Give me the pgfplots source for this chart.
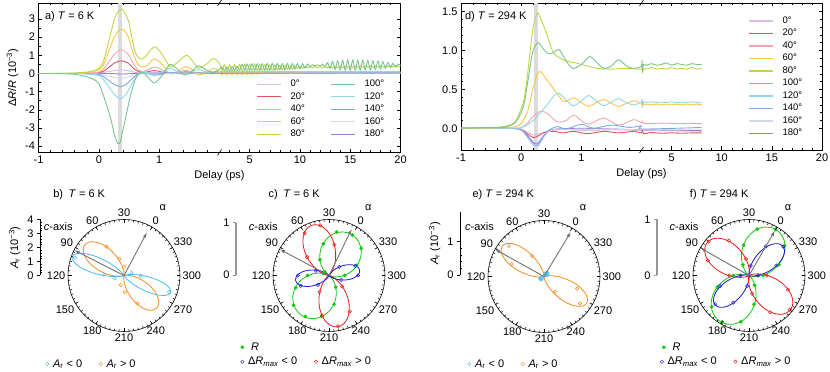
\documentclass[border=0pt]{standalone}
\usepackage{pgfplots}
\pgfplotsset{compat=1.18}
\usepackage{pgfplotstable}
\usetikzlibrary{arrows.meta}
\usepackage{fontspec}
\setmainfont{Liberation Sans}
\setsansfont{Liberation Sans}

\definecolor{c0}{RGB}{216,186,228}
\definecolor{c20}{RGB}{222,85,95}
\definecolor{c40}{RGB}{242,165,172}
\definecolor{c60}{RGB}{250,198,70}
\definecolor{c80}{RGB}{190,214,70}
\definecolor{c100}{RGB}{120,196,140}
\definecolor{c120}{RGB}{140,218,228}
\definecolor{c140}{RGB}{128,168,228}
\definecolor{c160}{RGB}{208,218,236}
\definecolor{c180}{RGB}{150,120,215}
\definecolor{pcyan}{RGB}{70,190,240}
\definecolor{porange}{RGB}{245,140,30}
\definecolor{pgreen}{RGB}{20,200,20}
\definecolor{pblue}{RGB}{25,25,220}
\definecolor{pred}{RGB}{235,25,25}
\definecolor{agray}{RGB}{115,115,115}
\definecolor{bgray}{RGB}{150,150,150}

\newcommand\fs{\fontsize{11bp}{13bp}\selectfont}
\newcommand\fl{\fontsize{9.5bp}{11bp}\selectfont}
\newcommand\BX{ifthenelse(\thisrow{t}<=2,\thisrow{t},2+(\thisrow{t}-2)/6)}

\tikzset{arr/.style={agray, line width=0.9bp, -{Latex[length=5.5bp,width=3.5bp]}}}

% circular frame with angle ticks and labels (alpha = theta - 60)
\newcommand\polframe[2]{%
  \begin{scope}[shift={(#1bp,#2bp)}]
  \draw[line width=0.6bp] (0,0) circle (56bp);
  \foreach \a in {0,5,...,355} \draw[line width=0.5bp] (\a:56bp) -- (\a:54bp);
  \foreach \a in {0,30,...,330} \draw[line width=0.5bp] (\a:56bp) -- (\a:52.5bp);
  \foreach \t/\l in {0/300,30/330,60/0,90/30,120/60,150/90,180/120,210/150,240/180,270/210,300/240,330/270}{%
    \pgfmathtruncatemacro\an{mod(\t+180,360)}%
    \node[font=\fs, inner sep=1.5bp, anchor=\an] at (\t:57bp) {\l};}
  \end{scope}}

\pgfplotsset{
  top/.style={scale only axis, xmin=-1, xmax=5,
    xtick={-1,0,1,2.5,3.333333,4.166667,5},
    xticklabels={-1,0,1,5,10,15,20},
    minor xtick={-0.8,-0.6,-0.4,-0.2,0.2,0.4,0.6,0.8,1.2,1.4,1.6,1.8,2.166667,2.333333,2.666667,2.833333,3,3.166667,3.5,3.666667,3.833333,4,4.333333,4.5,4.666667,4.833333},
    tick align=inside, major tick length=3.5bp, minor tick length=2bp,
    axis line style={line width=0.6bp}, tick style={line width=0.5bp, black},
    font=\fs, /pgf/number format/assume math mode=true,
    xlabel={Delay (ps)},
    legend style={draw=none, fill=none, font=\fl, inner sep=0bp,
      nodes={inner sep=1.75bp, text height=7bp, text depth=2bp},
      /tikz/every odd column/.append style={column sep=7bp},
      /tikz/every even column/.append style={column sep=24bp}},
    legend cell align=left,
    legend image code/.code={\draw[#1, line width=1.2bp] (0bp,0bp) -- (24bp,0bp);},
  },
  ln/.style={line width=0.9bp, smooth, forget plot},
  pc/.style={hide axis, scale only axis, width=112bp, height=112bp, anchor=center, clip=false},
  lob/.style={smooth, line width=0.8bp, data cs=polar},
  mk/.style={only marks, mark=o, mark size=1.7bp, mark options={line width=0.5bp}, data cs=polar},
  mkf/.style={only marks, mark=*, mark size=1.7bp, data cs=polar},
  scl/.style={scale only axis, width=1bp, xmin=0, xmax=1, ymin=0,
    axis x line=none, axis y line=left, y axis line style={-},
    tick align=outside, major tick length=3bp, minor tick length=2bp,
    minor tick style={xshift=2bp}, tick style={black, line width=0.5bp},
    font=\fs, /pgf/number format/assume math mode=true},
  leg/.style={hide axis, scale only axis, width=1bp, height=1bp, xmin=0,xmax=1,ymin=0,ymax=1,
    legend style={at={(0,0.5)}, anchor=west, draw=none, fill=none, font=\fs, inner sep=0bp,
      nodes={inner sep=1bp},
      /tikz/every odd column/.append style={column sep=3bp},
      /tikz/every even column/.append style={column sep=16bp}},
    legend cell align=left,
    legend image code/.code={\draw[#1] plot coordinates {(0bp,0bp)};}},
}

\pgfplotstableread{
p n15 n2 n4 n6 n8 n16
-90 0 0 0 0 0 0
-85 0.0257 0.0076 0.0001 0 0 0
-80 0.0724 0.0302 0.0009 0 0 0
-75 0.1317 0.0670 0.0045 0.0003 0 0
-70 0.2000 0.1170 0.0137 0.0016 0.0002 0
-65 0.2748 0.1786 0.0319 0.0057 0.0010 0
-60 0.3536 0.25 0.0625 0.0156 0.0039 0
-55 0.4344 0.3290 0.1082 0.0356 0.0117 0
-50 0.5153 0.4132 0.1707 0.0705 0.0291 0.0008
-45 0.5946 0.5 0.25 0.125 0.0625 0.0039
-40 0.6705 0.5868 0.3443 0.2020 0.1185 0.0140
-35 0.7414 0.6710 0.4502 0.3021 0.2027 0.0411
-30 0.8059 0.75 0.5625 0.4219 0.3164 0.1001
-25 0.8629 0.8214 0.6747 0.5542 0.4552 0.2072
-20 0.9108 0.8830 0.7797 0.6885 0.6079 0.3695
-15 0.9493 0.9330 0.8705 0.8122 0.7578 0.5743
-10 0.9773 0.9698 0.9405 0.9121 0.8845 0.7823
-5 0.9943 0.9924 0.9849 0.9774 0.9700 0.9409
0 1 1 1 1 1 1
5 0.9943 0.9924 0.9849 0.9774 0.9700 0.9409
10 0.9773 0.9698 0.9405 0.9121 0.8845 0.7823
15 0.9493 0.9330 0.8705 0.8122 0.7578 0.5743
20 0.9108 0.8830 0.7797 0.6885 0.6079 0.3695
25 0.8629 0.8214 0.6747 0.5542 0.4552 0.2072
30 0.8059 0.75 0.5625 0.4219 0.3164 0.1001
35 0.7414 0.6710 0.4502 0.3021 0.2027 0.0411
40 0.6705 0.5868 0.3443 0.2020 0.1185 0.0140
45 0.5946 0.5 0.25 0.125 0.0625 0.0039
50 0.5153 0.4132 0.1707 0.0705 0.0291 0.0008
55 0.4344 0.3290 0.1082 0.0356 0.0117 0
60 0.3536 0.25 0.0625 0.0156 0.0039 0
65 0.2748 0.1786 0.0319 0.0057 0.0010 0
70 0.2000 0.1170 0.0137 0.0016 0.0002 0
75 0.1317 0.0670 0.0045 0.0003 0 0
80 0.0724 0.0302 0.0009 0 0 0
85 0.0257 0.0076 0.0001 0 0 0
90 0 0 0 0 0 0
}\lobe

\begin{document}
\begin{tikzpicture}
\useasboundingbox (0,0) rectangle (830bp,372bp);

%================ panel a ================
\begin{axis}[top, at={(38.5bp,219.5bp)}, anchor=south west,
  width=362bp, height=149.5bp, ymin=-4.35, ymax=3.88,
  ytick={-4,...,3}, minor y tick num=1,
  ylabel={Δ\textit{R}/\textit{R} (10\textsuperscript{−3})},
  legend columns=2,
  legend style={at={(0.602,0.5)}, anchor=north west}]
\addplot[fill=black!14, draw=none, forget plot] coordinates {(0.317,-4.35) (0.383,-4.35) (0.383,3.88) (0.317,3.88)} -- cycle;
\addplot[c0, ln] table[x expr=\BX, y=v] {
t v
-1 0
-0.2 0
0 0.02
0.15 0.1
0.3 0.18
0.38 0.2
0.5 0.14
0.62 0.05
0.75 0.02
0.92 0.06
1.15 0
1.45 0.04
1.7 0
2 0.02
20 0.01
};
\addplot[c20, ln] table[x expr=\BX, y=v] {
t v
-1 0
-0.3 0
-0.1 0.02
0 0.05
0.08 0.12
0.19 0.4
0.27 0.6
0.38 0.7
0.49 0.57
0.57 0.3
0.65 0.12
0.75 0.06
0.92 0.16
1.05 0.08
1.18 0.02
1.45 0.09
1.65 0
1.9 0.05
2 0.03
20 0.02
};
\addplot[c40, ln] table[x expr=\BX, y=v] {
t v
-1 0
-0.3 0
-0.1 0.03
0 0.08
0.08 0.25
0.19 0.75
0.27 1.1
0.38 1.3
0.49 1.05
0.57 0.55
0.65 0.22
0.75 0.12
0.92 0.36
1.05 0.2
1.18 0
1.3 0.06
1.45 0.18
1.6 0.04
1.9 0.1
2 0.05
20 0.04
};
\addplot[c60, ln] table[x expr=\BX, y=v] {
t v
-1 0
-0.5 0
-0.3 0.02
-0.2 0.05
-0.1 0.1
0 0.2
0.08 0.5
0.19 1.45
0.27 2.1
0.38 2.45
0.49 2.0
0.57 1.1
0.65 0.5
0.72 0.36
0.8 0.45
0.92 0.8
1.05 0.5
1.18 -0.03
1.3 0.1
1.45 0.38
1.55 0.2
1.65 -0.08
1.78 0.05
1.9 0.28
2.0 0.1
2.25 -0.08
2.5 0.12
2.75 -0.08
3.0 0.1
3.25 -0.08
3.5 0.1
3.75 -0.07
4.0 0.09
4.25 -0.07
4.5 0.08
4.75 -0.06
5.0 0.07
5.25 -0.05
5.5 0.06
5.75 -0.04
6 0.04
7 0.02
20 0.02
};
\addplot[c180, ln] table[x expr=\BX, y=v] {
t v
-1 0
0.1 0
0.36 -0.03
0.6 0
0.9 0.01
20 0
};
\addplot[c160, ln] table[x expr=\BX, y=v] {
t v
-1 0
-0.2 0
0 -0.03
0.19 -0.16
0.36 -0.27
0.5 -0.18
0.62 -0.05
0.75 0
0.92 -0.06
1.2 0
2 0.01
20 0.02
};
\addplot[c140, ln] table[x expr=\BX, y=v] {
t v
-1 0
-0.3 0
-0.1 -0.02
0 -0.06
0.08 -0.18
0.19 -0.45
0.27 -0.63
0.36 -0.72
0.45 -0.6
0.55 -0.3
0.63 -0.08
0.75 0.04
0.92 -0.1
1.05 -0.02
1.18 0.06
1.42 -0.03
1.65 0.04
2 0
20 0.04
};
\addplot[c120, ln] table[x expr=\BX, y=v] {
t v
-1 0
-0.4 0
-0.2 -0.03
0 -0.12
0.08 -0.35
0.19 -0.85
0.27 -1.2
0.36 -1.39
0.45 -1.15
0.55 -0.55
0.63 -0.15
0.72 0.05
0.8 0.04
0.92 -0.06
1.05 0.1
1.18 0.3
1.3 0.1
1.42 0
1.55 0.12
1.65 0.22
1.8 0.08
2.0 0.1
20 0.1
};
\addplot[c80, ln] table[x expr=\BX, y=v] {
t v
-1 0
-0.6 0.01
-0.4 0.03
-0.2 0.08
-0.1 0.14
0 0.28
0.08 0.7
0.19 2.1
0.27 3.1
0.38 3.55
0.49 2.9
0.57 1.6
0.62 1.06
0.68 0.82
0.75 0.85
0.92 1.47
1.05 1.05
1.18 0.38
1.3 0.6
1.45 1.0
1.55 0.7
1.65 0.3
1.78 0.5
1.9 0.82
2.0 0.55
2.25 0.15
2.5 0.5
2.75 0.12
3.0 0.48
3.25 0.12
3.5 0.5
3.75 0.13
4.0 0.5
4.25 0.12
4.5 0.52
4.75 0.13
5.0 0.5
5.25 0.14
5.5 0.52
5.75 0.15
6.0 0.5
6.25 0.16
6.5 0.5
6.75 0.17
7.0 0.48
7.25 0.18
7.5 0.48
7.75 0.2
8.0 0.46
8.25 0.2
8.5 0.45
8.75 0.22
9.0 0.44
9.25 0.24
9.5 0.42
9.75 0.26
10.0 0.4
10.25 0.28
10.5 0.4
10.75 0.3
11.0 0.38
11.25 0.31
11.5 0.39
11.75 0.31
12.0 0.39
12.25 0.3
12.5 0.4
12.75 0.3
13.0 0.4
13.25 0.3
13.5 0.4
13.75 0.31
14.0 0.41
14.25 0.31
14.5 0.41
14.75 0.32
15.0 0.42
15.25 0.32
15.5 0.42
15.75 0.33
16.0 0.42
16.25 0.33
16.5 0.42
16.75 0.34
17.0 0.43
17.25 0.34
17.5 0.43
17.75 0.35
18.0 0.43
18.25 0.35
18.5 0.43
18.75 0.36
19.0 0.43
19.25 0.37
19.5 0.43
19.75 0.38
20.0 0.42
};
\addplot[c100, ln] table[x expr=\BX, y=v] {
t v
-1 0
-0.6 -0.01
-0.4 -0.05
-0.3 -0.1
-0.2 -0.18
-0.1 -0.3
0 -0.55
0.08 -1.25
0.19 -2.4
0.27 -3.5
0.34 -3.87
0.41 -2.95
0.52 -1.29
0.6 -0.35
0.66 0
0.72 0.08
0.8 -0.15
0.92 -0.52
1.05 -0.1
1.18 0.5
1.3 0.25
1.42 -0.08
1.55 0.15
1.65 0.42
1.78 0.2
1.9 0.05
2.0 0.25
2.25 0.35
2.5 0.15
2.75 0.36
3.0 0.15
3.25 0.38
3.5 0.16
3.75 0.4
4.0 0.17
4.25 0.5
4.5 0.18
4.75 0.52
5.0 0.18
5.25 0.53
5.5 0.17
5.75 0.53
6.0 0.17
6.25 0.54
6.5 0.17
6.75 0.55
7.0 0.18
7.25 0.55
7.5 0.18
7.75 0.55
8.0 0.2
8.25 0.55
8.5 0.2
8.75 0.55
9.0 0.22
9.25 0.55
9.5 0.24
9.75 0.55
10.0 0.26
10.25 0.54
10.5 0.3
10.75 0.52
11.0 0.36
11.25 0.48
11.5 0.42
11.75 0.47
12.0 0.42
12.25 0.5
12.5 0.36
12.75 0.6
13.0 0.28
13.25 0.66
13.5 0.22
13.75 0.7
14.0 0.2
14.25 0.72
14.5 0.18
14.75 0.74
15.0 0.18
15.25 0.74
15.5 0.18
15.75 0.73
16.0 0.18
16.25 0.72
16.5 0.2
16.75 0.72
17.0 0.2
17.25 0.7
17.5 0.22
17.75 0.68
18.0 0.25
18.25 0.65
18.5 0.28
18.75 0.6
19.0 0.32
19.25 0.56
19.5 0.36
19.75 0.52
20.0 0.45
};
\addlegendimage{c0}\addlegendentry{0°}
\addlegendimage{c100}\addlegendentry{100°}
\addlegendimage{c20}\addlegendentry{20°}
\addlegendimage{c120}\addlegendentry{120°}
\addlegendimage{c40}\addlegendentry{40°}
\addlegendimage{c140}\addlegendentry{140°}
\addlegendimage{c60}\addlegendentry{60°}
\addlegendimage{c160}\addlegendentry{160°}
\addlegendimage{c80}\addlegendentry{80°}
\addlegendimage{c180}\addlegendentry{180°}
\end{axis}
\draw[line width=0.6bp] (217.5bp,216.5bp) -- (221.5bp,222.5bp);
\draw[line width=0.6bp] (217.5bp,366bp) -- (221.5bp,372bp);
\node[font=\fs, inner sep=0pt] at (69.7bp,355.3bp) {a) \textit{T} = 6 K};

%================ panel d ================
\begin{axis}[top, at={(461bp,222bp)}, anchor=south west,
  width=361bp, height=147bp, ymin=-0.28, ymax=1.61,
  ytick={0,0.5,1,1.5}, minor y tick num=4,
  yticklabel style={/pgf/number format/.cd, fixed, fixed zerofill, precision=1},
  legend style={at={(0.796,0.922)}, anchor=north west}]
\addplot[fill=black!14, draw=none, forget plot] coordinates {(0.217,-0.28) (0.283,-0.28) (0.283,1.61) (0.217,1.61)} -- cycle;
\addplot[c0, ln] table[x expr=\BX, y=v] {
t v
-1 0
-0.2 0
0 -0.01
0.1 -0.05
0.22 -0.09
0.3 -0.07
0.45 -0.04
0.7 -0.01
1.0 -0.03
1.5 -0.02
2 -0.03
8 -0.04
};
\addplot[c20, ln] table[x expr=\BX, y=v] {
t v
-1 0
-0.2 0
0 -0.02
0.1 -0.07
0.2 -0.12
0.28 -0.1
0.4 -0.05
0.55 -0.04
0.7 -0.06
0.87 -0.04
1.1 -0.07
1.37 -0.04
1.62 -0.06
1.87 -0.04
2.0 -0.06
2.1 -0.02
2.2 -0.07
3 -0.055
4 -0.065
5 -0.06
6 -0.065
7 -0.06
8 -0.06
};
\addplot[c40, ln] table[x expr=\BX, y=v] {
t v
-1 0
-0.1 0
0 0.01
0.1 0.06
0.2 0.15
0.33 0.22
0.45 0.18
0.6 0.08
0.75 0.1
0.87 0.17
1.0 0.1
1.12 0.05
1.37 0.13
1.62 0.04
1.87 0.11
2.0 0.07
2.1 0.1
2.25 0.06
4 0.065
6 0.06
8 0.06
};
\addplot[c180, ln] table[x expr=\BX, y=v] {
t v
-1 0
-0.2 0
0 -0.02
0.1 -0.09
0.2 -0.18
0.27 -0.2
0.35 -0.12
0.45 -0.04
0.6 -0.01
1.0 0
1.5 -0.01
2 -0.02
8 -0.03
};
\addplot[c160, ln] table[x expr=\BX, y=v] {
t v
-1 0
-0.2 0
0 -0.03
0.1 -0.12
0.2 -0.23
0.27 -0.25
0.35 -0.15
0.45 -0.05
0.6 -0.01
0.9 -0.02
1.3 -0.01
2 -0.02
8 -0.02
};
\addplot[c140, ln] table[x expr=\BX, y=v] {
t v
-1 0
-0.2 0
0 -0.02
0.1 -0.1
0.2 -0.2
0.27 -0.22
0.35 -0.13
0.45 -0.03
0.6 0.02
0.75 -0.01
1.0 0.05
1.2 0
1.5 0.04
1.8 0.01
2.0 0.03
2.1 -0.01
8 0.01
};
\addplot[c60, ln] table[x expr=\BX, y=v] {
t v
-1 0
-0.3 0
-0.1 0.02
0 0.06
0.1 0.2
0.15 0.35
0.2 0.52
0.3 0.73
0.45 0.6
0.6 0.44
0.72 0.34
0.87 0.39
1.0 0.33
1.12 0.28
1.25 0.33
1.37 0.37
1.5 0.32
1.62 0.28
1.75 0.32
1.87 0.35
2.0 0.32
2.05 0.26
2.12 0.34
2.25 0.3
2.5 0.31
3 0.3
3.5 0.31
4 0.3
4.5 0.31
5 0.3
5.5 0.31
6 0.3
6.5 0.31
7 0.3
7.5 0.31
8 0.3
};
\addplot[c120, ln] table[x expr=\BX, y=v] {
t v
-1 0
-0.1 0
0 0.01
0.1 0.04
0.2 0.1
0.3 0.18
0.45 0.32
0.55 0.42
0.63 0.45
0.75 0.36
0.87 0.29
1.0 0.35
1.12 0.42
1.25 0.35
1.37 0.29
1.5 0.34
1.62 0.38
1.75 0.33
1.87 0.3
2.0 0.34
2.05 0.38
2.12 0.3
2.25 0.34
2.5 0.33
3 0.34
3.5 0.33
4 0.335
4.5 0.33
5 0.34
5.5 0.33
6 0.335
6.5 0.33
7 0.34
7.5 0.33
8 0.33
};
\addplot[c80, ln] table[x expr=\BX, y=v] {
t v
-1 0
-0.5 0.005
-0.3 0.02
-0.2 0.04
-0.1 0.08
0 0.25
0.05 0.38
0.1 0.65
0.15 1.0
0.2 1.3
0.27 1.48
0.33 1.4
0.42 1.22
0.53 0.98
0.65 0.9
0.76 0.86
0.9 0.84
1.1 0.8
1.25 0.77
1.5 0.76
1.75 0.77
2.0 0.76
2.05 0.8
2.1 0.72
2.25 0.77
2.5 0.76
3 0.78
3.5 0.76
4 0.77
4.5 0.76
5 0.78
5.5 0.76
6 0.77
6.5 0.76
7 0.78
7.5 0.76
8 0.77
};
\addplot[c100, ln] table[x expr=\BX, y=v] {
t v
-1 0
-0.3 0.015
-0.2 0.03
-0.1 0.07
0 0.2
0.05 0.32
0.1 0.55
0.15 0.8
0.2 1.0
0.28 1.1
0.36 1.03
0.45 0.96
0.55 0.98
0.63 1.01
0.72 0.9
0.85 0.77
1.0 0.82
1.14 0.92
1.25 0.85
1.37 0.77
1.5 0.8
1.62 0.88
1.75 0.8
1.87 0.77
2.0 0.8
2.05 0.88
2.1 0.74
2.2 0.82
2.5 0.81
3 0.83
3.5 0.81
4 0.82
4.5 0.84
5 0.81
5.5 0.83
6 0.82
6.5 0.81
7 0.83
7.5 0.82
8 0.82
};
\addlegendimage{c0}\addlegendentry{0°}
\addlegendimage{c20}\addlegendentry{20°}
\addlegendimage{c40}\addlegendentry{40°}
\addlegendimage{c60}\addlegendentry{60°}
\addlegendimage{c80}\addlegendentry{80°}
\addlegendimage{c100}\addlegendentry{100°}
\addlegendimage{c120}\addlegendentry{120°}
\addlegendimage{c140}\addlegendentry{140°}
\addlegendimage{c160}\addlegendentry{160°}
\addlegendimage{c180}\addlegendentry{180°}
\end{axis}
\draw[line width=0.6bp] (639.5bp,219bp) -- (643.5bp,225bp);
\draw[line width=0.6bp] (639.5bp,366bp) -- (643.5bp,372bp);
\node[font=\fs, inner sep=0pt] at (495.8bp,355.3bp) {d) \textit{T} = 294 K};

%================ panel b ================
\begin{axis}[pc, at={(124bp,96.5bp)}, xmin=-4, xmax=4, ymin=-4, ymax=4]
\addplot[porange, lob] table[x expr=\thisrow{p}+142, y expr=3.55*\thisrow{n6}] {\lobe};
\addplot[porange, lob] table[x expr=\thisrow{p}+315, y expr=3.3*\thisrow{n6}] {\lobe};
\addplot[pcyan, lob] table[x expr=\thisrow{p}+160, y expr=3.95*\thisrow{n16}] {\lobe};
\addplot[pcyan, lob] table[x expr=\thisrow{p}+340, y expr=3.55*\thisrow{n16}] {\lobe};
\addplot[pcyan, mk] table[x expr=\thisrow{a}+60, y=r] {
a r
100 3.74
118 1.44
137 0.69
321 0.57
299 1.18
280 3.44
};
\addplot[porange, mk] table[x expr=\thisrow{a}+60, y=r] {
a r
61 2.41
46 1.23
30 0.63
191 0.72
213 1.2
236 2.21
};
\end{axis}
\polframe{124}{96.5}
\draw[arr] (124bp,96.5bp) -- ++(62:49bp);
\draw[arr] (124bp,96.5bp) -- ++(153:56bp);
\begin{axis}[scl, at={(40bp,96.5bp)}, anchor=south west, height=56bp, ymax=4,
  ytick={0,1,2,3,4}, minor y tick num=4,
  ylabel={\textit{A}\textsubscript{r} (10\textsuperscript{−3})}]
\end{axis}
\node[font=\fs, inner sep=0pt] at (79.2bp,177bp) {b)\enspace\textit{T} = 6 K};
\node[font=\fs, inner sep=0pt] at (58.3bp,145.3bp) {\textit{c}-axis};
\node[font=\fs, inner sep=0pt] at (162.7bp,164.3bp) {α};
\begin{axis}[leg, at={(45.5bp,8bp)}, anchor=west, legend columns=2]
\addlegendimage{only marks, mark=o, pcyan, mark size=1.7bp}\addlegendentry{\textit{A}\textsubscript{r} < 0}
\addlegendimage{only marks, mark=o, porange, mark size=1.7bp}\addlegendentry{\textit{A}\textsubscript{r} > 0}
\end{axis}

%================ panel c ================
\begin{axis}[pc, at={(329bp,96.5bp)}, xmin=-1.077, xmax=1.077, ymin=-1.077, ymax=1.077]
\addplot[pgreen, lob] table[x expr=\thisrow{p}+62, y expr=0.9*\thisrow{n15}] {\lobe};
\addplot[pgreen, lob] table[x expr=\thisrow{p}+235, y expr=0.93*\thisrow{n15}] {\lobe};
\addplot[pred, lob] table[x expr=\thisrow{p}+109, y expr=1.02*\thisrow{n4}] {\lobe};
\addplot[pred, lob] table[x expr=\thisrow{p}+280, y expr=1.0*\thisrow{n4}] {\lobe};
\addplot[pblue, lob] table[x expr=\thisrow{p}+10, y expr=0.6*\thisrow{n6}] {\lobe};
\addplot[pblue, lob] table[x expr=\thisrow{p}+188, y expr=0.65*\thisrow{n6}] {\lobe};
\addplot[pgreen, mkf] table[x expr=\thisrow{a}+60, y=r] {
a r
300 0.30
320 0.57
340 0.81
0 0.9
20 0.85
40 0.62
60 0.35
80 0.1
100 0.12
120 0.41
140 0.68
160 0.89
180 0.91
200 0.8
220 0.56
240 0.26
};
\addplot[pblue, mk] table[x expr=\thisrow{a}+60, y=r] {
a r
280 0.25
300 0.56
320 0.54
340 0.26
100 0.27
120 0.6
140 0.58
160 0.28
};
\addplot[pred, mk] table[x expr=\thisrow{a}+60, y=r] {
a r
20 0.6
40 0.98
60 0.94
80 0.55
180 0.36
200 0.78
220 0.99
240 0.8
260 0.33
};
\end{axis}
\polframe{329}{96.5}
\draw[arr] (329bp,96.5bp) -- ++(64:52bp);
\draw[arr] (329bp,96.5bp) -- ++(152:56bp);
\begin{axis}[scl, at={(236bp,97bp)}, anchor=south west, height=52.3bp, ymax=1,
  ytick={0,1}, y axis line style={bgray, line width=1.6bp}, tick style={bgray, line width=0.8bp}]
\end{axis}
\node[font=\fs, inner sep=0pt] at (294.2bp,177bp) {c)\enspace\textit{T} = 6 K};
\node[font=\fs, inner sep=0pt] at (263.3bp,145.3bp) {\textit{c}-axis};
\node[font=\fs, inner sep=0pt] at (368.3bp,164.3bp) {α};
\begin{axis}[leg, at={(240.5bp,24.7bp)}, anchor=west]
\addlegendimage{only marks, mark=*, pgreen, mark size=1.7bp}\addlegendentry{\ \textit{R}}
\end{axis}
\begin{axis}[leg, at={(240.5bp,10.3bp)}, anchor=west, legend columns=2]
\addlegendimage{only marks, mark=o, pblue, mark size=1.7bp}\addlegendentry{Δ\textit{R}\textsubscript{\textit{max}} < 0}
\addlegendimage{only marks, mark=o, pred, mark size=1.7bp}\addlegendentry{Δ\textit{R}\textsubscript{\textit{max}} > 0}
\end{axis}

%================ panel e ================
\begin{axis}[pc, at={(544bp,95.5bp)}, xmin=-1.68, xmax=1.68, ymin=-1.68, ymax=1.68]
\addplot[porange, lob] table[x expr=\thisrow{p}+144, y expr=1.55*\thisrow{n8}] {\lobe};
\addplot[porange, lob] table[x expr=\thisrow{p}+328, y expr=1.51*\thisrow{n8}] {\lobe};
\addplot[pcyan, lob] table[x expr=\thisrow{p}+50, y expr=0.17*\thisrow{n4}] {\lobe};
\addplot[pcyan, lob] table[x expr=\thisrow{p}+215, y expr=0.15*\thisrow{n4}] {\lobe};
\addplot[porange, mk] table[x expr=\thisrow{a}+60, y=r] {
a r
79 1.39
60 0.71
99 1.04
246 0.56
280 1.06
263 1.35
};
\addplot[pcyan, mk] table[x expr=\thisrow{a}+60, y=r] {
a r
340 0.15
0 0.13
320 0.1
150 0.14
170 0.12
135 0.1
};
\end{axis}
\polframe{544}{95.5}
\draw[arr] (544bp,95.5bp) -- ++(59:52bp);
\draw[arr] (544bp,95.5bp) -- ++(151:56bp);
\begin{axis}[scl, at={(460bp,97bp)}, anchor=south west, height=63.3bp, ymax=1.9,
  ytick={0,1}, minor y tick num=4,
  ylabel={\textit{A}\textsubscript{r} (10\textsuperscript{−3})}]
\end{axis}
\node[font=\fs, inner sep=0pt] at (503.3bp,177bp) {e) \textit{T} = 294 K};
\node[font=\fs, inner sep=0pt] at (479.5bp,145.3bp) {\textit{c}-axis};
\node[font=\fs, inner sep=0pt] at (583bp,164.3bp) {α};
\begin{axis}[leg, at={(467.5bp,8bp)}, anchor=west, legend columns=2]
\addlegendimage{only marks, mark=o, pcyan, mark size=1.7bp}\addlegendentry{\textit{A}\textsubscript{r} < 0}
\addlegendimage{only marks, mark=o, porange, mark size=1.7bp}\addlegendentry{\textit{A}\textsubscript{r} > 0}
\end{axis}

%================ panel f ================
\begin{axis}[pc, at={(749bp,96.5bp)}, xmin=-1, xmax=1, ymin=-1, ymax=1]
\addplot[pgreen, lob] table[x expr=\thisrow{p}+60, y expr=0.95*\thisrow{n2}] {\lobe};
\addplot[pgreen, lob] table[x expr=\thisrow{p}+238, y expr=0.97*\thisrow{n2}] {\lobe};
\addplot[pblue, lob] table[x expr=\thisrow{p}+41, y expr=0.8*\thisrow{n6}] {\lobe};
\addplot[pblue, lob] table[x expr=\thisrow{p}+221, y expr=0.8*\thisrow{n6}] {\lobe};
\addplot[pred, lob] table[x expr=\thisrow{p}+142, y expr=0.95*\thisrow{n4}] {\lobe};
\addplot[pred, lob] table[x expr=\thisrow{p}+320, y expr=0.96*\thisrow{n4}] {\lobe};
\addplot[pgreen, mkf] table[x expr=\thisrow{a}+60, y=r] {
a r
300 0.25
320 0.57
340 0.83
0 0.95
20 0.84
40 0.55
60 0.22
120 0.28
140 0.6
160 0.87
180 0.96
200 0.84
220 0.52
240 0.2
};
\addplot[pblue, mk] table[x expr=\thisrow{a}+60, y=r] {
a r
300 0.16
320 0.52
340 0.8
0 0.6
20 0.18
120 0.15
140 0.55
160 0.79
180 0.56
200 0.19
};
\addplot[pred, mk] table[x expr=\thisrow{a}+60, y=r] {
a r
40 0.3
60 0.72
80 0.94
100 0.78
120 0.35
220 0.33
240 0.76
260 0.95
280 0.74
300 0.32
};
\end{axis}
\polframe{749}{96.5}
\draw[arr] (749bp,96.5bp) -- ++(60:52bp);
\draw[arr] (749bp,96.5bp) -- ++(150.5:56bp);
\begin{axis}[scl, at={(657bp,96.5bp)}, anchor=south west, height=56bp, ymax=1,
  ytick={0,1}, y axis line style={bgray, line width=1.6bp}, tick style={bgray, line width=0.8bp}]
\end{axis}
\node[font=\fs, inner sep=0pt] at (719.2bp,177bp) {f) \textit{T} = 294 K};
\node[font=\fs, inner sep=0pt] at (684bp,145.3bp) {\textit{c}-axis};
\node[font=\fs, inner sep=0pt] at (788bp,164.3bp) {α};
\begin{axis}[leg, at={(662bp,24.7bp)}, anchor=west]
\addlegendimage{only marks, mark=*, pgreen, mark size=1.7bp}\addlegendentry{\ \textit{R}}
\end{axis}
\begin{axis}[leg, at={(660bp,10.3bp)}, anchor=west, legend columns=2]
\addlegendimage{only marks, mark=o, pblue, mark size=1.7bp}\addlegendentry{Δ\textit{R}\textsubscript{\textit{max}} < 0}
\addlegendimage{only marks, mark=o, pred, mark size=1.7bp}\addlegendentry{Δ\textit{R}\textsubscript{\textit{max}} > 0}
\end{axis}
\end{tikzpicture}
\end{document}
